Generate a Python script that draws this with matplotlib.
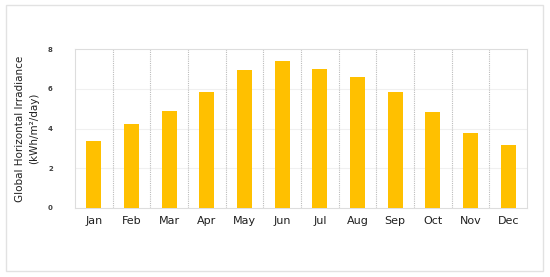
import matplotlib.pyplot as plt
from matplotlib.patches import Rectangle
import numpy as np

months = ["Jan", "Feb", "Mar", "Apr", "May", "Jun",
          "Jul", "Aug", "Sep", "Oct", "Nov", "Dec"]
ghi = [3.38, 4.22, 4.87, 5.83, 6.92, 7.40, 7.00, 6.57, 5.83, 4.84, 3.77, 3.17]
y_ticks = [0, 2, 4, 6, 8]

fig = plt.figure(figsize=(5.5, 2.77), dpi=100)
fig.patch.set_facecolor("white")

# light frame around the whole chart
fig.add_artist(Rectangle((6 / 550, 6 / 277), 537 / 550, 266 / 277,
                         transform=fig.transFigure, fill=False,
                         edgecolor="#e2e2e2", linewidth=1.0))

ax = fig.add_axes([75 / 550, 69 / 277, 452 / 550, 159 / 277])
x = np.arange(len(months))
ax.bar(x, ghi, width=0.4, color="#FFC000", zorder=3)

ax.set_xlim(-0.5, len(months) - 0.5)
ax.set_ylim(0, 8)
ax.set_yticks(y_ticks)
ax.set_yticklabels([str(t) for t in y_ticks], fontsize=5, fontweight="bold",
                   color="#404040")
ax.set_xticks(x)
ax.set_xticklabels(months, fontsize=8, color="#202020")
ax.tick_params(length=0)
ax.tick_params(axis="y", pad=16)
ax.tick_params(axis="x", pad=6)

for t in y_ticks[1:-1]:
    ax.axhline(t, color="#f0f0f0", linewidth=0.8, zorder=1)
for b in x[:-1] + 0.5:
    ax.axvline(b, color="#bcbcbc", linewidth=0.8, linestyle=(0, (1, 1)), zorder=2)

for s in ax.spines.values():
    s.set_color("#dddddd")
    s.set_linewidth(0.8)

ax.set_ylabel("Global Horizontal Irradiance\n(kWh/m²/day)", fontsize=7.5,
              color="#202020", labelpad=6, linespacing=1.5)

fig.savefig("out.png", dpi=100, facecolor="white")
